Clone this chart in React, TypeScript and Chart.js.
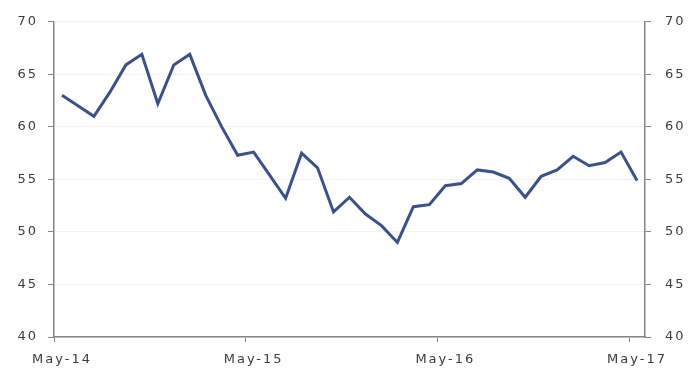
import React, { useEffect, useRef } from "react";
import { Chart, registerables } from "chart.js";

Chart.register(...registerables);

const MONTHS = ["Jan","Feb","Mar","Apr","May","Jun","Jul","Aug","Sep","Oct","Nov","Dec"];
// May-14 .. May-17, monthly (37 months)
const categories: string[] = [];
for (let i = 0; i < 37; i++) {
  const m = (4 + i) % 12;
  const y = 14 + Math.floor((4 + i) / 12);
  categories.push(`${MONTHS[m]}-${y}`);
}

const seriesValues = [
  63.0, 62.0, 61.0, 63.3, 65.9, 66.9, 62.2, 65.9, 66.9, 63.0,
  60.0, 57.3, 57.6, 55.4, 53.2, 57.5, 56.1, 51.9, 53.3, 51.7,
  50.6, 49.0, 52.4, 52.6, 54.4, 54.6, 55.9, 55.7, 55.1, 53.3,
  55.3, 55.9, 57.2, 56.3, 56.6, 57.6, 54.9,
];

const yMin = 40;
const yMax = 70;
const yStep = 5;
const labelEvery = 12;

const AXIS = "#858585";
const TEXT = "#3c3c3c";
const FONT = { family: "'DejaVu Sans', sans-serif", size: 13 };

const spacingPlugin = {
  id: "letterSpacing",
  beforeDraw(chart: any) {
    try { chart.ctx.letterSpacing = "2px"; } catch (e) {}
  },
};

export default function App() {
  const ref = useRef<HTMLCanvasElement | null>(null);
  useEffect(() => {
    if (!ref.current) return;
    const chart = new Chart(ref.current, {
      type: "line",
      data: {
        labels: categories,
        datasets: [
          {
            data: seriesValues,
            borderColor: "#3b508f",
            borderWidth: 3,
            pointRadius: 0,
            tension: 0,
            fill: false,
            yAxisID: "y",
          },
        ],
      },
      options: {
        animation: false,
        responsive: true,
        maintainAspectRatio: false,
        layout: { padding: { top: 20, left: 0, right: 0, bottom: 0 } },
        plugins: { legend: { display: false }, tooltip: { enabled: false }, title: { display: false } },
        scales: {
          x: {
            type: "category",
            offset: true,
            grid: {
              offset: true,
              drawOnChartArea: false,
              drawTicks: true,
              tickLength: 5,
              color: (ctx: any) => (ctx.index % labelEvery === 0 ? AXIS : "rgba(0,0,0,0)"),
            },
            border: { display: true, color: AXIS, width: 1.5 },
            ticks: {
              autoSkip: false,
              maxRotation: 0,
              minRotation: 0,
              padding: 10,
              color: TEXT,
              font: FONT,
              callback: (_v: any, i: number) => (i % labelEvery === 0 ? categories[i] : ""),
            },
            afterFit: (s: any) => { s.height = 41; },
          },
          y: {
            position: "left",
            min: yMin,
            max: yMax,
            grid: { color: "#f3f3f3", tickColor: AXIS, tickLength: 6, drawTicks: true },
            border: { display: true, color: AXIS, width: 1.5 },
            ticks: { stepSize: yStep, padding: 10, color: TEXT, font: FONT },
            afterFit: (s: any) => { s.width = 54; },
          },
          y2: {
            position: "right",
            min: yMin,
            max: yMax,
            grid: { drawOnChartArea: false, tickColor: AXIS, tickLength: 6, drawTicks: true },
            border: { display: true, color: AXIS, width: 1.5 },
            ticks: { stepSize: yStep, padding: 14, color: TEXT, font: FONT },
            afterFit: (s: any) => { s.width = 50; },
          },
        },
      },
      plugins: [spacingPlugin],
    } as any);
    return () => chart.destroy();
  }, []);
  return (
    <div style={{ position: "absolute", left: 0, top: 0, width: 695, height: 378, background: "#fff" }}>
      <canvas ref={ref} />
    </div>
  );
}
